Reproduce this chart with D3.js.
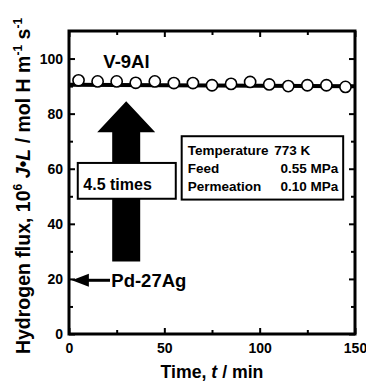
<!DOCTYPE html>
<html>
<head>
<meta charset="utf-8">
<script src="https://cdn.jsdelivr.net/npm/d3@7"></script>
<style>
  body { margin: 0; background: #fff; }
  svg text { font-family: "Liberation Sans", Arial, sans-serif; font-weight: bold; fill: #000; }
  .axis path { display: none; }
  .axis line { stroke: #000; stroke-width: 2; }
  .axis text { font-size: 14px; }
</style>
</head>
<body>
<svg id="chart" width="366" height="383"></svg>
<script>
// data
var times = [5, 15, 25, 35, 45, 55, 65, 75, 85, 95, 105, 115, 125, 135, 145];
var fluxV9Al = [92.1, 91.7, 91.7, 91.2, 91.7, 91.1, 91.1, 90.3, 90.8, 91.5, 90.6, 90.0, 90.3, 90.3, 89.7];
var fitLine = [[0, 90.5], [150, 89.9]];
var xMajorTicks = [0, 50, 100, 150];
var xMinorTicks = [25, 75, 125];
var yMajorTicks = [0, 20, 40, 60, 80, 100];
var yMinorTicks = [10, 30, 50, 70, 90];
var pdFlux = 19.5;           // Pd-27Ag level
var gainArrow = [30, 26.3, 84.5]; // t, from, to
var infoRows = [
    ["Temperature", "773 K", ""],
    ["Feed", "", "0.55 MPa"],
    ["Permeation", "", "0.10 MPa"]
];

var svg = d3.select("#chart");
var margin = { top: 31, right: 11, bottom: 49, left: 69 };
var width = +svg.attr("width") - margin.left - margin.right;
var height = +svg.attr("height") - margin.top - margin.bottom;

var xScale = d3.scaleLinear().domain([0, 150]).range([0, width]);
var yScale = d3.scaleLinear().domain([0, 110]).range([height, 0]);

var g = svg.append("g")
    .attr("transform", "translate(" + margin.left + "," + margin.top + ")");

// big up arrow (V-9Al vs Pd-27Ag)
var ax = xScale(gainArrow[0]), ay0 = yScale(gainArrow[1]), ay1 = yScale(gainArrow[2]);
var shaftHalf = 14, headHalf = 29, headLen = 31;
g.append("path")
    .attr("d", "M" + (ax - shaftHalf) + "," + ay0 +
        "L" + (ax - shaftHalf) + "," + (ay1 + headLen) +
        "L" + (ax - headHalf) + "," + (ay1 + headLen) +
        "L" + ax + "," + ay1 +
        "L" + (ax + headHalf) + "," + (ay1 + headLen) +
        "L" + (ax + shaftHalf) + "," + (ay1 + headLen) +
        "L" + (ax + shaftHalf) + "," + ay0 + "Z")
    .attr("fill", "#000");

// "4.5 times" box
g.append("rect")
    .attr("x", xScale(4.6)).attr("y", yScale(62.1))
    .attr("width", xScale(56) - xScale(4.6))
    .attr("height", yScale(49.1) - yScale(62.1))
    .attr("fill", "#fff").attr("stroke", "#000").attr("stroke-width", 2);
g.append("text")
    .attr("x", xScale(7.5)).attr("y", yScale(52.4))
    .style("font-size", "16px")
    .text("4.5 times");

// conditions box
var bx0 = xScale(59.1), bx1 = xScale(143.8), by0 = yScale(71.8), by1 = yScale(48.8);
g.append("rect")
    .attr("x", bx0).attr("y", by0)
    .attr("width", bx1 - bx0).attr("height", by1 - by0)
    .attr("fill", "#fff").attr("stroke", "#000").attr("stroke-width", 2);
infoRows.forEach(function (row, i) {
    var yy = by0 + 18.5 + i * 18.3;
    g.append("text").attr("x", bx0 + 6).attr("y", yy).style("font-size", "13.5px").text(row[0]);
    if (row[1]) g.append("text").attr("x", bx0 + 92.5).attr("y", yy).style("font-size", "13.5px").text(row[1]);
    if (row[2]) g.append("text").attr("x", bx1 - 5).attr("y", yy).attr("text-anchor", "end").style("font-size", "13.5px").text(row[2]);
});

// Pd-27Ag arrow
var py = yScale(pdFlux);
g.append("line")
    .attr("x1", xScale(1.5) + 14).attr("x2", xScale(21.5))
    .attr("y1", py).attr("y2", py)
    .attr("stroke", "#000").attr("stroke-width", 3);
g.append("path")
    .attr("d", "M" + xScale(1.5) + "," + py + "L" + (xScale(1.5) + 17) + "," + (py - 6.5) +
        "L" + (xScale(1.5) + 17) + "," + (py + 6.5) + "Z")
    .attr("fill", "#000");
g.append("text")
    .attr("x", xScale(22.2)).attr("y", py + 7)
    .style("font-size", "18.5px")
    .text("Pd-27Ag");

// V-9Al label
g.append("text")
    .attr("x", xScale(18)).attr("y", yScale(96.5))
    .style("font-size", "18.5px")
    .text("V-9Al");

// fit line
var line = d3.line()
    .x(function (d) { return xScale(d[0]); })
    .y(function (d) { return yScale(d[1]); });
g.append("path")
    .datum(fitLine)
    .attr("d", line)
    .attr("fill", "none").attr("stroke", "#000").attr("stroke-width", 4);

// data points
g.selectAll(".pt")
    .data(times)
    .enter().append("circle")
    .attr("class", "pt")
    .attr("cx", function (d) { return xScale(d); })
    .attr("cy", function (d, i) { return yScale(fluxV9Al[i]); })
    .attr("r", 5.6)
    .attr("fill", "#fff").attr("stroke", "#000").attr("stroke-width", 1.6);

// axes, ticks pointing inward on all sides
g.append("g").attr("class", "axis")
    .attr("transform", "translate(0," + height + ")")
    .call(d3.axisBottom(xScale).tickValues(xMajorTicks).tickSizeInner(-6).tickSizeOuter(0).tickPadding(9));
g.append("g").attr("class", "axis")
    .attr("transform", "translate(0," + height + ")")
    .call(d3.axisBottom(xScale).tickValues(xMinorTicks).tickFormat("").tickSizeInner(-4).tickSizeOuter(0));
g.append("g").attr("class", "axis")
    .call(d3.axisTop(xScale).tickValues(xMajorTicks).tickFormat("").tickSizeInner(-6).tickSizeOuter(0));
g.append("g").attr("class", "axis")
    .call(d3.axisTop(xScale).tickValues(xMinorTicks).tickFormat("").tickSizeInner(-4).tickSizeOuter(0));

g.append("g").attr("class", "axis")
    .call(d3.axisLeft(yScale).tickValues(yMajorTicks).tickSizeInner(-6).tickSizeOuter(0).tickPadding(6));
g.append("g").attr("class", "axis")
    .call(d3.axisLeft(yScale).tickValues(yMinorTicks).tickFormat("").tickSizeInner(-4).tickSizeOuter(0));
g.append("g").attr("class", "axis")
    .attr("transform", "translate(" + width + ",0)")
    .call(d3.axisRight(yScale).tickValues(yMajorTicks).tickFormat("").tickSizeInner(-6).tickSizeOuter(0));
g.append("g").attr("class", "axis")
    .attr("transform", "translate(" + width + ",0)")
    .call(d3.axisRight(yScale).tickValues(yMinorTicks).tickFormat("").tickSizeInner(-4).tickSizeOuter(0));

// frame
g.append("rect")
    .attr("width", width).attr("height", height)
    .attr("fill", "none").attr("stroke", "#000").attr("stroke-width", 3);

// axis titles
var xt = svg.append("text")
    .attr("x", margin.left + width / 2).attr("y", 378)
    .attr("text-anchor", "middle")
    .style("font-size", "17.7px");
xt.append("tspan").text("Time, ");
xt.append("tspan").style("font-style", "italic").text("t");
xt.append("tspan").text(" / min");

var yt = svg.append("text")
    .attr("transform", "translate(30," + 186 + ") rotate(-90)")
    .attr("text-anchor", "middle")
    .style("font-size", "19.5px");
yt.append("tspan").text("Hydrogen flux, 10");
yt.append("tspan").attr("dy", -8).style("font-size", "12px").text("6");
yt.append("tspan").attr("dy", 8).text(" ");
yt.append("tspan").style("font-style", "italic").text("J");
yt.append("tspan").text("\u2022");
yt.append("tspan").style("font-style", "italic").text("L");
yt.append("tspan").text(" / mol H m");
yt.append("tspan").attr("dy", -8).style("font-size", "12px").text("-1");
yt.append("tspan").attr("dy", 8).text(" s");
yt.append("tspan").attr("dy", -8).style("font-size", "12px").text("-1");
</script>
</body>
</html>
